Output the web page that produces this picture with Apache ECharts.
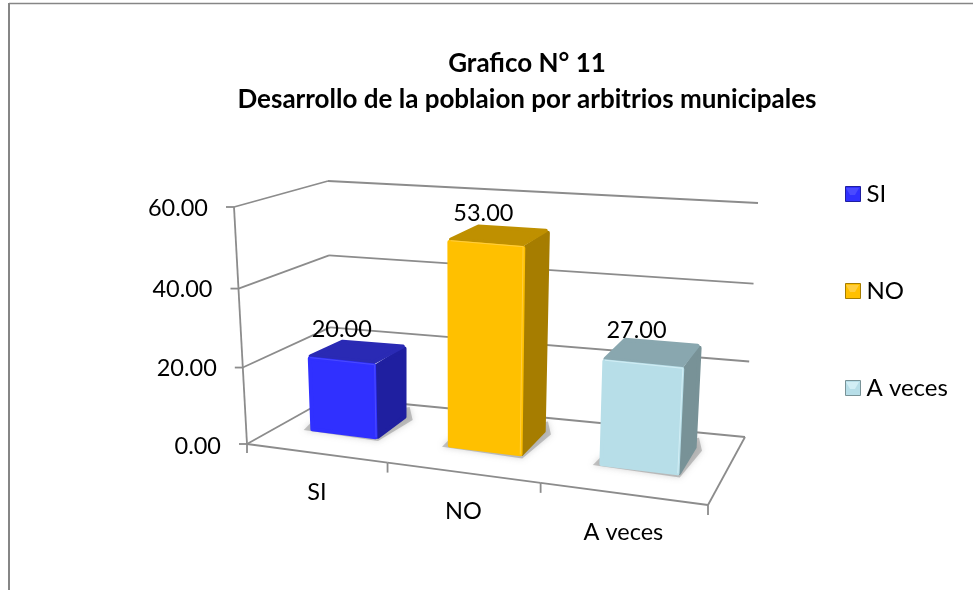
<!DOCTYPE html>
<html><head><meta charset="utf-8">
<style>html,body{margin:0;padding:0;background:#fff}#c{width:973px;height:590px}</style>
<script src="https://cdn.jsdelivr.net/npm/echarts@6/dist/echarts.min.js"></script>
</head><body><div id="c"></div>
<script>
const categories = ['SI', 'NO', 'A veces'];
const values = [20, 53, 27];
const valueTicks = [0, 20, 40, 60];
const titleLines = ['Grafico N° 11', 'Desarrollo de la poblaion por arbitrios municipales'];
const frontColors = ['#3030FF', '#FFC000', '#B7DEE8'];
const topColors = ['#2A2AB4', '#BF9000', '#89A7AF'];
const sideColors = ['#1F1FA0', '#A67D00', '#789297'];
const edgeColors = ['#4A4AFF', '#FFCE40', '#D2EEF5'];

const FONT = 'Lato, "Open Sans", sans-serif';
const AXIS = '#8c8c8c';
const G = {left: 247, top: 207, width: 461, height: 237};
// box corners of the 3D plot: floor and ceiling, each front-left, front-right, back-right, back-left
const floorQ = [[247,444],[708,505],[745,437],[331,397]];
const ceilQ = [[234,207],[722,248],[758,203],[328,181]];
const BAR = {d0: 0.36, d1: 0.75, w: 0.49};

const lerp = (a,b,t)=>[a[0]+(b[0]-a[0])*t, a[1]+(b[1]-a[1])*t];
function bilin(q,u,d){ return lerp(lerp(q[0],q[1],u), lerp(q[3],q[2],u), d); }
function project(u,d,t) {
  const uu = u/(u+(1-u)*1.14);
  const tt = t/(t+(1-t)*1.05);
  return lerp(bilin(floorQ,uu,d), bilin(ceilQ,uu,d), tt);
}
const toU = x => (x-G.left)/G.width;
const toT = y => (G.top+G.height-y)/G.height;

function shrink(pts, r) {
  const cx=pts.reduce((s,p)=>s+p[0],0)/pts.length, cy=pts.reduce((s,p)=>s+p[1],0)/pts.length;
  return pts.map(p=>{const dx=cx-p[0],dy=cy-p[1],l=Math.hypot(dx,dy);return [p[0]+dx/l*r,p[1]+dy/l*r];});
}
function face(pts, color, z) {
  return {type:'polygon', z2:z, shape:{points:shrink(pts,2.4)},
    style:{fill:color, stroke:color, lineWidth:4, lineJoin:'round'}};
}
function line(a,b,z,color,w) {
  return {type:'line', z2:z||0, shape:{x1:a[0],y1:a[1],x2:b[0],y2:b[1]}, style:{stroke:color||AXIS,lineWidth:w||1.8}};
}
function text(x,y,s,align) {
  return {type:'text', z2:50, style:{x:x,y:y,text:s,textAlign:align||'center',align:align||'center',verticalAlign:'middle',textVerticalAlign:'middle',font:'23.5px '+FONT,fill:'#000'}};
}

function renderValueTick(params, api) {
  const t = toT(api.coord([0, api.value(1)])[1]);
  const front=project(0,0,t), back=project(0,1,t), right=project(1,1,t);
  return {type:'group', children:[
    line(front,back), line(back,right),
    line(front,[front[0]-8,front[1]]),
    text(front[0]-26, front[1]+1+(t===0?1:0), api.value(1).toFixed(2), 'right')
  ]};
}
function renderCategoryTick(params, api) {
  const idx=api.value(0), cx=api.coord([idx,0])[0], bw=api.size([1,0])[0];
  const u0=toU(cx-bw/2), u1=toU(cx+bw/2), um=toU(cx);
  const a=project(u0,0,0), b=project(u1,0,0), c=project(um,0,0);
  const kids=[line(a,b), line(b,[b[0],b[1]+10])];
  if(idx===0){
    kids.push(line(a,[a[0],a[1]+9]));
    kids.push(line(project(0,0,0),project(0,0,1)));
    kids.push(line(project(1,0,0),project(1,1,0)));
  }
  kids.push(text(c[0]+1,c[1]+39,categories[idx]));
  return {type:'group',children:kids};
}
function renderBar(params, api) {
  const idx=api.value(0), val=api.value(1), cx=api.coord([idx,val])[0], y=api.coord([idx,val])[1], bw=api.size([1,0])[0];
  const u0=toU(cx-bw*BAR.w/2), u1=toU(cx+bw*BAR.w/2), t=toT(y), d0=BAR.d0, d1=BAR.d1;
  const p=(u,d,h)=>project(u,d,h);
  const fbl=p(u0,d0,0), fbr=p(u1,d0,0), bbr=p(u1,d1,0), bbl=p(u0,d1,0);
  const ftl=p(u0,d0,t), ftr=p(u1,d0,t), btr=p(u1,d1,t), btl=p(u0,d1,t);
  const topC=[(ftl[0]+btr[0])/2,(ftl[1]+btr[1])/2];
  const shadowPts=[[fbl[0]-7,fbl[1]-1],[fbr[0]+1,fbr[1]+2],[bbr[0]+7,bbr[1]+1],[bbr[0]+4,bbr[1]-12],[fbl[0],fbl[1]-8]];
  return {type:'group',children:[
    {type:'polygon',z2:1,shape:{points:shadowPts},style:{fill:'rgba(140,140,140,0.5)',shadowBlur:6,shadowColor:'rgba(140,140,140,0.7)'}},
    face([ftr,fbr,bbr,btr],sideColors[idx],2),
    face([ftl,ftr,btr,btl],topColors[idx],3),
    face([ftl,ftr,fbr,fbl],frontColors[idx],4),
    line([ftl[0]+2,ftl[1]+1],[ftr[0]-1,ftr[1]+1],5,edgeColors[idx],1),
    line([ftr[0]-1,ftr[1]+1],[fbr[0]-1,fbr[1]-2],5,edgeColors[idx],1),
    text(topC[0]-15,topC[1]-22,val.toFixed(2))
  ]};
}

const legendBevel = categories.map((c,i)=>{
  const ly=[188,285,382][i];
  return {type:'polygon',z:20,shape:{points:[[846,ly],[859,ly],[855,ly+7],[850,ly+7]]},style:{fill:edgeColors[i]}};
});

const chart = echarts.init(document.getElementById('c'), null, {renderer:'canvas'});
chart.setOption({
  animation:false, backgroundColor:'#fff',
  title:[
    {text:titleLines[0],left:522,top:46,textAlign:'center',textStyle:{fontFamily:FONT,fontSize:26,fontWeight:'bold',color:'#000'}},
    {text:titleLines[1],left:522,top:82,textAlign:'center',textStyle:{fontFamily:FONT,fontSize:26,fontWeight:'bold',color:'#000'}}
  ],
  grid:{left:G.left,top:G.top,width:G.width,height:G.height},
  xAxis:{type:'category',data:categories,show:false},
  yAxis:{type:'value',min:0,max:60,interval:20,show:false},
  legend:{orient:'vertical',left:845,top:177,padding:[5,0,5,0],itemWidth:15,itemHeight:15,itemGap:73,
    data:categories.map((c,i)=>({name:c,icon:'rect',itemStyle:{color:frontColors[i],borderColor:sideColors[i],borderWidth:1}})),
    textStyle:{fontFamily:FONT,fontSize:24,color:'#000',padding:[0,0,0,1]}},
  graphic:[
    {type:'line',shape:{x1:9,y1:3.5,x2:973,y2:3.5},style:{stroke:'#868686',lineWidth:1.5}},
    {type:'line',shape:{x1:9,y1:3,x2:9,y2:590},style:{stroke:'#868686',lineWidth:2}},
    ...legendBevel
  ],
  series:[
    {type:'custom',name:'ejes-valor',z:1,silent:true,renderItem:renderValueTick,data:valueTicks.map(v=>[0,v]),encode:{x:0,y:1}},
    {type:'custom',name:'ejes-categoria',z:1,silent:true,renderItem:renderCategoryTick,data:categories.map((c,i)=>[i,0]),encode:{x:0,y:1}},
    ...categories.map((c,i)=>({type:'custom',name:c,z:3+i,silent:true,itemStyle:{color:frontColors[i]},renderItem:renderBar,data:[[i,values[i]]],encode:{x:0,y:1}}))
  ]
});
</script></body></html>
